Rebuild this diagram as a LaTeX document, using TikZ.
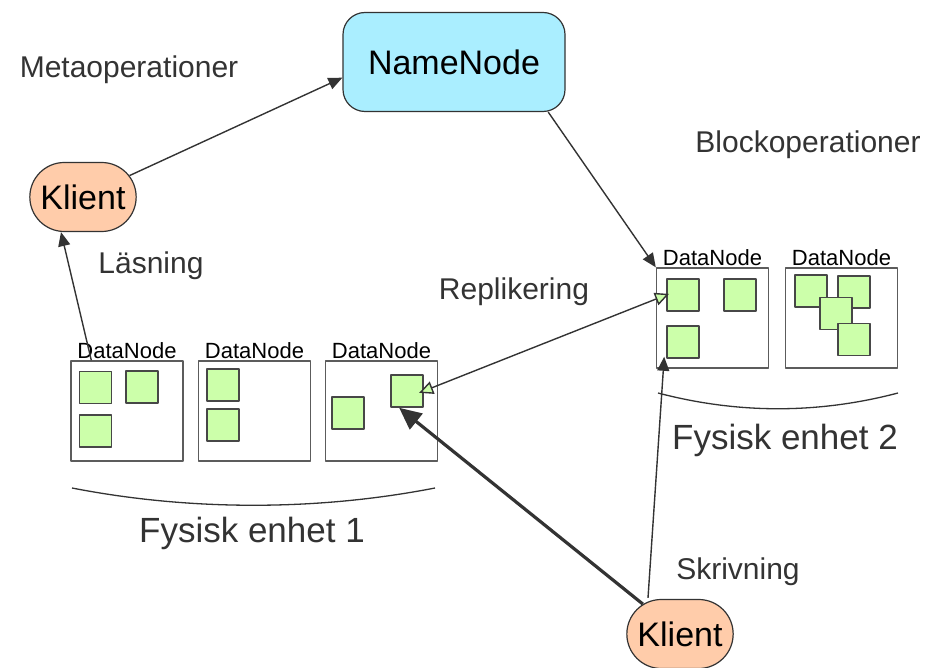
\documentclass[tikz,border=0pt]{standalone}
\usepackage{fontspec}
\setmainfont{Liberation Sans}
\usetikzlibrary{arrows.meta,shapes.misc}
\definecolor{nncol}{HTML}{AAEEFF}
\definecolor{klcol}{HTML}{FFCCAA}
\definecolor{blkcol}{HTML}{CCFFAA}
\definecolor{ink}{HTML}{333333}

\begin{document}
\begin{tikzpicture}[x=1pt,y=-1pt,line join=round,
    lbl/.style={text=ink,font=\fontsize{30}{34}\selectfont},
    dnlbl/.style={text=black,inner sep=1pt,font=\fontsize{22}{24}\selectfont},
    dnbox/.style={draw=ink!80,line width=1.4pt,minimum width=112pt,minimum height=100pt},
    blk/.style={draw=ink!90,fill=blkcol,line width=1.6pt,minimum size=32pt,inner sep=0pt},
    klient/.style={rounded rectangle,draw=ink,fill=klcol,line width=1.2pt,
        minimum width=113pt,minimum height=69pt,font=\fontsize{34}{36}\selectfont}]
\useasboundingbox (0,0) rectangle (932,668);

% Master and clients
\node [draw=ink,fill=nncol,line width=1.2pt,rounded corners=22pt,minimum width=222pt,
    minimum height=99pt,font=\fontsize{34}{36}\selectfont] (nn) at (454,62) {NameNode};
\node [klient] (klA) at (83,197) {Klient};
\node [klient] (klB) at (680,634) {Klient};

% Operation labels
\node [lbl] (meta) at (129,70) {Metaoperationer};
\node [lbl] (block) at (808,145) {Blockoperationer};
\node [lbl] (lasn) at (151,266) {Läsning};
\node [lbl] (repl) at (514,292) {Replikering};
\node [lbl] (skriv) at (738,572) {Skrivning};

% DataNodes, unit 1
\node [dnbox] (dn1) at (127,411) {};
\node [dnbox] (dn2) at (254.5,411) {};
\node [dnbox] (dn3) at (381.5,411) {};
% DataNodes, unit 2
\node [dnbox] (dnA) at (712.5,318) {};
\node [dnbox] (dnB) at (841.5,318) {};

\foreach \d in {dn1,dn2,dn3,dnA,dnB}{%
    \node [dnlbl,above] (\d-l) at (\d.north) {DataNode};
}

% Blocks
\node [blk] (b11) at (95.5,387.5) {};
\node [blk] (b12) at (142,387) {};
\node [blk] (b13) at (95.5,431) {};
\node [blk] (b21) at (223,385) {};
\node [blk] (b22) at (223,425) {};
\node [blk] (b31) at (348,413) {};
\node [blk] (b32) at (407,391) {};
\node [blk] (bA1) at (683,295) {};
\node [blk] (bA2) at (740,295) {};
\node [blk] (bA3) at (683,342) {};
\node [blk] (bB1) at (811,291) {};
\node [blk] (bB2) at (854,292) {};
\node [blk] (bB3) at (836,313.5) {};
\node [blk] (bB4) at (854,339.5) {};

% Braces under the units
\draw [ink,line width=1.3pt] (72,488) .. controls (190,511) and (317,511) .. (435,488);
\draw [ink,line width=1.3pt] (658,393) .. controls (738,414) and (818,414) .. (898,393);
\node [lbl,font=\fontsize{35}{38}\selectfont] (fe1) at (252,533) {Fysisk enhet 1};
\node [lbl,font=\fontsize{35}{38}\selectfont] (fe2) at (785,440) {Fysisk enhet 2};

% Connectors
\begin{scope}[ink,line width=1.4pt,every path/.style={draw,-{Triangle[length=14pt,width=12pt]}}]
\path (klA) -- (nn.188);
\path (nn.-28) -- (dnA.north west);
\path ([xshift=21pt]dn1.north west) -- ([xshift=-22pt]klA.south);
\path ([xshift=-32pt,yshift=1pt]klB.north) -- ([shift={(-2pt,2pt)}]bA3.south west);
\path [{Triangle[length=14pt,width=13pt,fill=blkcol]}-{Triangle[length=14pt,width=13pt,fill=blkcol]},
    shorten <=-5pt,shorten >=-3pt] (b32.east) -- (bA1.west);
\path [line width=3.2pt,-{Triangle[length=22pt,width=20pt]}] (klB) -- (b32.-115);
\end{scope}
\end{tikzpicture}
\end{document}
